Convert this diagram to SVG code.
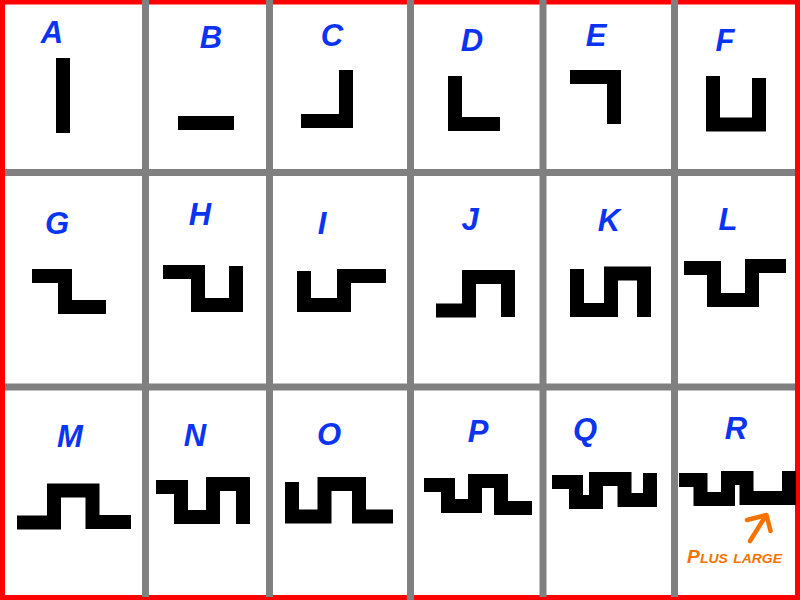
<svg xmlns="http://www.w3.org/2000/svg" width="800" height="600" viewBox="0 0 800 600">
<style>
.bg{fill:#ffffff}
.hl{stroke:#808080;stroke-width:7;fill:none}
.vl{stroke:#808080;stroke-width:7;fill:none}
.frame{fill:none;stroke:#ff0000;stroke-width:5}
.lbl{font-family:"Liberation Sans",Arial,sans-serif;font-weight:bold;font-style:italic;font-size:31px;fill:#0a34f2;text-anchor:middle}
.wave{fill:none;stroke:#000000;stroke-width:14;stroke-linecap:butt;stroke-linejoin:miter}
.note{font-family:"Liberation Sans",Arial,sans-serif;font-weight:bold;font-style:italic;font-size:18px;fill:#f57200;font-variant:small-caps}
.arr{fill:none;stroke:#f57200;stroke-width:4.5;stroke-linecap:round;stroke-linejoin:round}
</style>
<rect class="bg" x="0" y="0" width="800" height="600"/>
<g id="grid">
<line class="hl" x1="0" y1="172.5" x2="800" y2="172.5"/>
<line class="hl" x1="0" y1="387" x2="800" y2="387"/>
<rect class="frame" x="2.5" y="2" width="795" height="595.5"/>
<line class="vl" x1="145.5" y1="0" x2="145.5" y2="597"/>
<line class="vl" x1="269.5" y1="0" x2="269.5" y2="597"/>
<line class="vl" x1="410.5" y1="0" x2="410.5" y2="600"/>
<line class="vl" x1="543" y1="0" x2="543" y2="597"/>
<line class="vl" x1="674.5" y1="0" x2="674.5" y2="597"/>
</g>
<g id="A"><text class="lbl" x="52" y="43">A</text><polyline class="wave" points="63,58 63,133"/></g>
<g id="B"><text class="lbl" x="211" y="48">B</text><polyline class="wave" points="178,123 234,123"/></g>
<g id="C"><text class="lbl" x="332" y="46">C</text><polyline class="wave" points="301,121 346,121 346,70"/></g>
<g id="D"><text class="lbl" x="472" y="51">D</text><polyline class="wave" points="455,76 455,124 500,124"/></g>
<g id="E"><text class="lbl" x="596" y="46">E</text><polyline class="wave" points="570,77 614,77 614,124"/></g>
<g id="F"><text class="lbl" x="725" y="51">F</text><polyline class="wave" points="713,76 713,124.5 759,124.5 759,78"/></g>
<g id="G"><text class="lbl" x="57" y="234">G</text><polyline class="wave" points="32,276 65,276 65,307 106,307"/></g>
<g id="H"><text class="lbl" x="200" y="225">H</text><polyline class="wave" points="163,272 198,272 198,305 236,305 236,266"/></g>
<g id="I"><text class="lbl" x="322" y="234">I</text><polyline class="wave" points="304,271 304,305 344,305 344,276 386,276"/></g>
<g id="J"><text class="lbl" x="470" y="230">J</text><polyline class="wave" points="436,310.5 469,310.5 469,277 508,277 508,317"/></g>
<g id="K"><text class="lbl" x="609" y="231">K</text><polyline class="wave" points="577,269 577,310 611,310 611,273.5 644,273.5 644,317"/></g>
<g id="L"><text class="lbl" x="728" y="230">L</text><polyline class="wave" points="684,268 714,268 714,300 752,300 752,266 786,266"/></g>
<g id="M"><text class="lbl" x="70" y="447">M</text><polyline class="wave" points="17,522.5 54,522.5 54,490.5 92.5,490.5 92.5,522 131,522"/></g>
<g id="N"><text class="lbl" x="195" y="446">N</text><polyline class="wave" points="156,487 181,487 181,517 213,517 213,484 243,484 243,524"/></g>
<g id="O"><text class="lbl" x="329" y="445">O</text><polyline class="wave" points="292,482 292,516.5 324.5,516.5 324.5,484 359,484 359,516.5 393,516.5"/></g>
<g id="P"><text class="lbl" x="478" y="442">P</text><polyline class="wave" points="424,485 448,485 448,506 475,506 475,481 501,481 501,508 532,508"/></g>
<g id="Q"><text class="lbl" x="585" y="440">Q</text><polyline class="wave" points="552,482 576,482 576,502 596,502 596,479 624.5,479 624.5,500 650,500 650,473"/></g>
<g id="R"><text class="lbl" x="736" y="439">R</text><polyline class="wave" points="679,480 700.5,480 700.5,499 728,499 728,478 746.5,478 746.5,498 789,498 789,471"/></g>
<g id="note">
<path class="arr" d="M750,541 L765,517 M747,520 L766.5,515 L770.5,531"/>
<text class="note" x="687" y="563" textLength="95" lengthAdjust="spacingAndGlyphs">Plus large</text>
</g>
</svg>
